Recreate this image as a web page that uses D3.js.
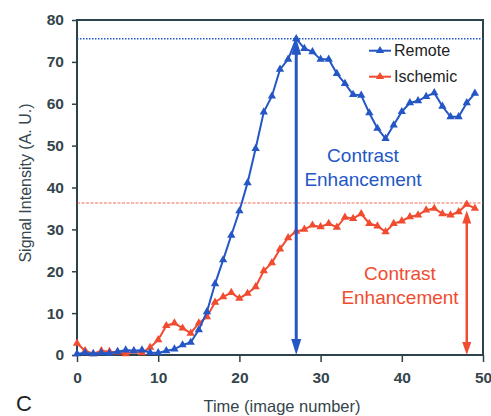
<!DOCTYPE html>
<html><head><meta charset="utf-8">
<script src="https://cdn.jsdelivr.net/npm/d3@7"></script>
<style>body{margin:0;background:#fff}svg{display:block;font-family:"Liberation Sans",Arial,sans-serif}</style>
</head><body>
<svg id="c" width="491" height="416"></svg>
<script>
const time = d3.range(0, 50);
const remote = [0.3,0.5,0.3,0.5,0.4,0.8,1.2,1.0,1.2,0.6,0.5,1.0,1.4,2.4,3.0,6.0,10.3,17.0,22.7,28.6,34.4,41.1,49.3,58.0,61.8,68.2,70.6,75.5,73.2,72.4,70.6,70.6,67.2,64.8,62.2,62.0,57.8,54.1,51.7,54.9,58.1,60.2,60.7,61.7,62.6,59.4,56.9,56.9,60.2,62.5];
const ischemic = [2.8,1.0,0.3,1.0,0.8,0.7,0.3,0.9,0.5,1.8,3.6,7.0,7.6,6.4,5.2,7.6,9.1,12.6,13.9,14.9,13.5,14.7,16.3,20.1,22.0,25.3,28.0,29.5,30.0,31.0,30.6,31.4,30.5,32.9,32.6,33.7,31.4,30.8,29.4,31.4,32.0,33.0,33.4,34.6,35.0,33.7,33.4,34.2,36.0,35.0];
const xTicks = [0,10,20,30,40,50];
const yTicks = [0,10,20,30,40,50,60,70,80];
const remoteMax = 75.5, ischemicMax = 36.3;
const remoteArrowX = 27, ischemicArrowX = 48, ischemicArrowTop = 34.5;
const seriesNames = ["Remote","Ischemic"];

const BLUE = "#2457c5", RED = "#f14b30", AX = "#2c434c", TXT = "#34454c";
const svg = d3.select("#c");
const x = d3.scaleLinear().domain([0,50]).range([77,483]);
const y = d3.scaleLinear().domain([0,80]).range([355,20]);

// axes
const xa = svg.append("g").attr("transform","translate(0,355)").call(d3.axisBottom(x).tickValues(xTicks).tickSize(7).tickPadding(10));
const ya = svg.append("g").attr("transform","translate(77,0)").call(d3.axisLeft(y).tickValues(yTicks).tickSize(5).tickPadding(8));
[xa,ya].forEach(a=>{a.select(".domain").remove();a.selectAll("line").attr("stroke",AX).attr("stroke-width",1.5);
  a.selectAll("text").attr("fill",TXT).style("font-size","15.5px").style("font-weight","bold");});
// box
svg.append("rect").attr("x",x(0)).attr("y",y(80)).attr("width",x(50)-x(0)).attr("height",y(0)-y(80))
  .attr("fill","none").attr("stroke",AX).attr("stroke-width",2);

// reference lines
svg.append("line").attr("x1",x(0)).attr("x2",x(50)).attr("y1",y(remoteMax)).attr("y2",y(remoteMax))
  .attr("stroke",BLUE).attr("stroke-width",1.5).attr("stroke-dasharray","1.5,1.5");
svg.append("line").attr("x1",x(0)).attr("x2",x(50)).attr("y1",y(ischemicMax)).attr("y2",y(ischemicMax))
  .attr("stroke",RED).attr("stroke-width",1).attr("stroke-dasharray","3,1.5").attr("opacity",0.8);

const line = d3.line().x((d,i)=>x(time[i])).y(d=>y(d));
const tri = d3.symbol().type(d3.symbolTriangle).size(30);
function series(vals,col){
  svg.append("path").attr("d",line(vals)).attr("fill","none").attr("stroke",col).attr("stroke-width",2);
  svg.append("g").selectAll("path").data(vals).join("path").attr("d",tri)
    .attr("transform",(d,i)=>`translate(${x(time[i])},${y(d)})`).attr("fill",col);
}
series(ischemic,RED);
series(remote,BLUE);

// arrows
function arrow(xv,top,bot,col,w,hw,hl){
  const X=x(xv), T=y(top), B=y(bot);
  svg.append("line").attr("x1",X).attr("x2",X).attr("y1",T+hl-2).attr("y2",B-hl+2).attr("stroke",col).attr("stroke-width",w);
  svg.append("path").attr("d",`M${X},${T}L${X-hw},${T+hl}L${X+hw},${T+hl}Z`).attr("fill",col);
  svg.append("path").attr("d",`M${X},${B}L${X-hw},${B-hl}L${X+hw},${B-hl}Z`).attr("fill",col);
}
arrow(remoteArrowX,remoteMax,0,BLUE,3,5,16);
arrow(ischemicArrowX,ischemicArrowTop,0,RED,2.5,4.5,13);

// legend
const lg = [[seriesNames[0],BLUE,50.7],[seriesNames[1],RED,76.7]];
lg.forEach(([n,c,yy])=>{
  svg.append("line").attr("x1",369).attr("x2",391).attr("y1",yy).attr("y2",yy).attr("stroke",c).attr("stroke-width",2);
  svg.append("path").attr("d",tri).attr("transform",`translate(380,${yy})`).attr("fill",c);
  svg.append("text").attr("x",394).attr("y",yy+5.5).text(n).attr("fill","#222").style("font-size","16px");
});

// annotations
function ann(cx,y1,y2,col){
  svg.append("text").attr("x",cx).attr("y",y1).attr("text-anchor","middle").attr("fill",col).style("font-size","19px").text("Contrast");
  svg.append("text").attr("x",cx).attr("y",y2).attr("text-anchor","middle").attr("fill",col).style("font-size","19px").text("Enhancement");
}
ann(363,162,186,BLUE);
ann(400,280,304,RED);

// titles
svg.append("text").attr("x",282).attr("y",412).attr("text-anchor","middle").attr("fill",TXT).style("font-size","16.5px").text("Time (image number)");
svg.append("text").attr("transform","translate(31,183) rotate(-90)").attr("text-anchor","middle").attr("fill",TXT).style("font-size","16px").text("Signal Intensity (A. U.)");
svg.append("text").attr("x",16).attr("y",411).attr("fill","#222").style("font-size","22px").text("C");
</script>
</body></html>
